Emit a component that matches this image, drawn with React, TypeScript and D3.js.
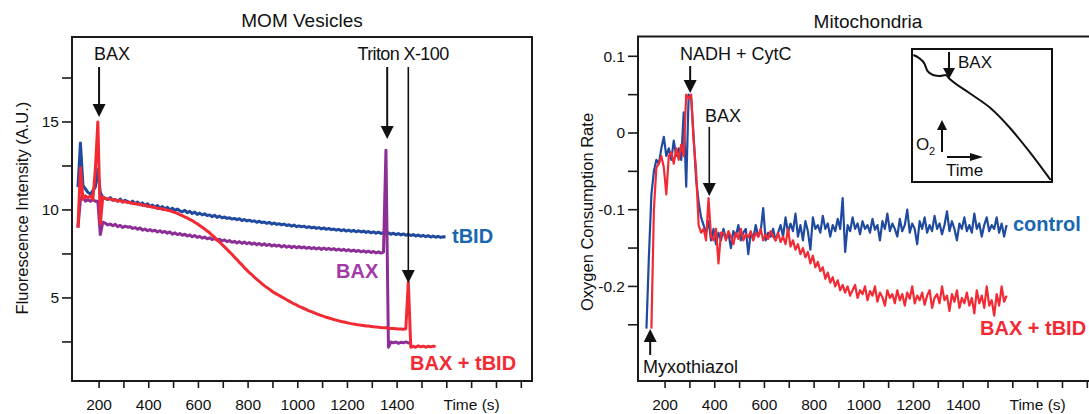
import React from "react";
import * as d3 from "d3";

// ---- data ----
const timeTicks = [200, 300, 400, 500, 600, 700, 800, 900, 1000, 1100, 1200, 1300, 1400, 1500, 1600, 1700, 1800, 1900];
const timeTickLabels = [200, 400, 600, 800, 1000, 1200, 1400];

const momTicks = [2.5, 5, 7.5, 10, 12.5, 15, 17.5];
const momTickLabels = [5, 10, 15];
const mitoTicks = [-0.25, -0.2, -0.15, -0.1, -0.05, 0, 0.05, 0.1];
const mitoTickLabels = [-0.2, -0.1, 0, 0.1];

// MOM vesicles, sampled every 10 s
const momStart = 115;
const momStep = 10;
const momTbid = [
  11.3, 13.8, 11.4, 11.2, 11.0, 10.9, 11.1, 11.3, 12.3, 11.0, 10.7,
  10.65, 10.6, 10.7, 10.55, 10.6, 10.5, 10.62, 10.45, 10.55, 10.48,
  10.4, 10.5, 10.35, 10.45, 10.3, 10.4, 10.25, 10.35, 10.2, 10.28,
  10.15, 10.25, 10.1, 10.2, 10.05, 10.15, 10.0, 10.1, 9.98, 10.05,
  9.95, 9.9, 9.98, 9.85, 9.92, 9.8, 9.88, 9.75, 9.82, 9.72,
  9.78, 9.68, 9.72, 9.62, 9.7, 9.58, 9.65, 9.55, 9.6, 9.52,
  9.56, 9.48, 9.52, 9.45, 9.5, 9.4, 9.46, 9.38, 9.42, 9.35,
  9.38, 9.3, 9.36, 9.28, 9.32, 9.24, 9.3, 9.2, 9.26, 9.18,
  9.22, 9.15, 9.2, 9.12, 9.16, 9.08, 9.14, 9.05, 9.1, 9.04,
  9.08, 9.0, 9.05, 8.98, 9.02, 8.95, 9.0, 8.92, 8.98, 8.9,
  8.95, 8.88, 8.92, 8.85, 8.9, 8.82, 8.88, 8.8, 8.86, 8.78,
  8.84, 8.76, 8.82, 8.75, 8.8, 8.72, 8.78, 8.7, 8.76, 8.68,
  8.74, 8.66, 8.72, 8.65, 8.7, 8.62, 8.68, 8.6, 8.66, 8.58,
  8.64, 8.56, 8.62, 8.55, 8.6, 8.52, 8.58, 8.5, 8.56, 8.48,
  8.54, 8.46, 8.52, 8.45, 8.5, 8.44, 8.48, 8.46,
];
const momBax = [
  9.0, 10.6, 10.8, 10.5, 10.6, 10.5, 10.6, 10.5, 10.5, 8.6, 9.3,
  9.25, 9.15, 9.2, 9.1, 9.18, 9.05, 9.12, 9.0, 9.08, 9.02,
  9.05, 8.95, 9.0, 8.9, 8.98, 8.85, 8.92, 8.82, 8.88, 8.8,
  8.85, 8.75, 8.82, 8.72, 8.78, 8.68, 8.75, 8.62, 8.7, 8.6,
  8.66, 8.56, 8.62, 8.52, 8.58, 8.48, 8.55, 8.44, 8.5, 8.4,
  8.46, 8.36, 8.42, 8.32, 8.38, 8.28, 8.34, 8.24, 8.3, 8.2,
  8.26, 8.16, 8.22, 8.12, 8.2, 8.1, 8.18, 8.08, 8.15, 8.05,
  8.12, 8.02, 8.1, 8.0, 8.08, 7.98, 8.05, 7.95, 8.02, 7.94,
  8.0, 7.9, 7.98, 7.88, 7.95, 7.86, 7.94, 7.85, 7.92, 7.84,
  7.9, 7.82, 7.88, 7.8, 7.86, 7.78, 7.85, 7.76, 7.84, 7.76,
  7.82, 7.74, 7.8, 7.72, 7.78, 7.7, 7.76, 7.68, 7.74, 7.66,
  7.72, 7.64, 7.7, 7.62, 7.68, 7.6, 7.66, 7.58, 7.64, 7.56,
  7.62, 7.55, 7.6, 13.4, 2.2,
  2.5, 2.45, 2.5, 2.42, 2.48, 2.45, 2.5, 2.44, 2.46,
];
const momBaxTbid = [
  9.0, 12.4, 10.6, 10.8, 10.7, 10.8, 10.6, 12.3, 15.0, 9.2, 10.75,
  10.66, 10.6, 10.64, 10.56, 10.58, 10.5, 10.54, 10.46, 10.48, 10.42,
  10.44, 10.36, 10.38, 10.32, 10.34, 10.26, 10.28, 10.2, 10.22, 10.15,
  10.16, 10.08, 10.1, 10.03, 10.04, 9.98, 9.96, 9.9, 9.86, 9.8,
  9.74, 9.68, 9.6, 9.55, 9.46, 9.4, 9.3, 9.22, 9.12, 9.02,
  8.92, 8.8, 8.7, 8.56, 8.45, 8.3, 8.18, 8.04, 7.9, 7.76,
  7.62, 7.48, 7.32, 7.18, 7.02, 6.88, 6.72, 6.58, 6.44, 6.32,
  6.18, 6.06, 5.94, 5.82, 5.7, 5.6, 5.5, 5.4, 5.3, 5.22,
  5.14, 5.06, 4.98, 4.9, 4.82, 4.74, 4.66, 4.6, 4.52, 4.46,
  4.4, 4.34, 4.27, 4.22, 4.16, 4.1, 4.05, 4.0, 3.95, 3.9,
  3.86, 3.82, 3.77, 3.74, 3.7, 3.66, 3.63, 3.6, 3.57, 3.54,
  3.52, 3.49, 3.47, 3.45, 3.43, 3.41, 3.4, 3.38, 3.36, 3.35,
  3.34, 3.32, 3.31, 3.3, 3.28, 3.27, 3.26, 3.25, 3.24, 3.24,
  3.22, 3.25, 5.9, 2.2,
  2.25, 2.2, 2.28, 2.22, 2.26, 2.2, 2.25, 2.22, 2.26, 2.24,
];

// Mitochondria oxygen consumption, sampled every 10 s
const mitoStep = 10;
const mitoControlStart = 125;
const mitoControl = [
  -0.255, -0.16, -0.08, -0.05, -0.035, -0.04, -0.02, -0.005, -0.03, -0.02,
  -0.035, -0.01, -0.03, -0.02, -0.035, 0.027, -0.07, 0.05, 0.045, -0.005,
  -0.06, -0.09, -0.11, -0.12, -0.13, -0.115, -0.14, -0.125, -0.145, -0.13,
  -0.14, -0.125, -0.138, -0.13, -0.15, -0.128, -0.135, -0.12, -0.14, -0.13,
  -0.125, -0.158, -0.13, -0.138, -0.12, -0.135, -0.128, -0.098, -0.14, -0.13,
  -0.135, -0.125, -0.14, -0.13, -0.12, -0.135, -0.11, -0.13, -0.118, -0.128,
  -0.105, -0.135, -0.12, -0.14, -0.115, -0.128, -0.152, -0.11, -0.125, -0.12,
  -0.13, -0.108, -0.125, -0.118, -0.135, -0.12, -0.128, -0.112, -0.125, -0.085,
  -0.155, -0.12, -0.128, -0.11, -0.125, -0.118, -0.132, -0.115, -0.125, -0.12,
  -0.13, -0.112, -0.126, -0.12, -0.14, -0.115, -0.125, -0.105, -0.128, -0.118,
  -0.125, -0.135, -0.112, -0.128, -0.12, -0.1, -0.13, -0.118, -0.125, -0.145,
  -0.115, -0.125, -0.11, -0.13, -0.12, -0.128, -0.108, -0.125, -0.118, -0.132,
  -0.12, -0.102, -0.128, -0.115, -0.125, -0.14, -0.118, -0.125, -0.11, -0.128,
  -0.12, -0.13, -0.105, -0.125, -0.118, -0.135, -0.12, -0.11, -0.128, -0.12,
  -0.125, -0.11, -0.13, -0.118, -0.135, -0.12,
];
const mitoBaxTbidStart = 145;
const mitoBaxTbid = [
  -0.255, -0.1, -0.045, -0.04, -0.03, -0.045, -0.08, -0.03, -0.025, -0.04,
  -0.02, -0.035, -0.015, -0.03, 0.05, 0.045, 0.05, -0.01, -0.05, -0.12,
  -0.13, -0.125, -0.14, -0.085, -0.135, -0.14, -0.125, -0.17, -0.13,
  -0.13, -0.14, -0.128, -0.135, -0.145, -0.13, -0.138, -0.125, -0.14, -0.132,
  -0.136, -0.128, -0.14, -0.13, -0.135, -0.125, -0.14, -0.132, -0.138, -0.128,
  -0.135, -0.14, -0.13, -0.142, -0.135, -0.145, -0.125, -0.148, -0.14, -0.152,
  -0.145, -0.158, -0.15, -0.162, -0.155, -0.17, -0.16, -0.175, -0.168, -0.18,
  -0.175, -0.19, -0.182, -0.195, -0.188, -0.2, -0.192, -0.205, -0.198, -0.208,
  -0.2, -0.212, -0.205, -0.198, -0.215, -0.205, -0.21, -0.2, -0.218, -0.206,
  -0.212, -0.2, -0.22, -0.208, -0.214, -0.225, -0.205, -0.215, -0.21, -0.222,
  -0.205, -0.218, -0.21, -0.225, -0.208, -0.216, -0.2, -0.222, -0.212, -0.218,
  -0.208, -0.224, -0.212, -0.205, -0.228, -0.215, -0.21, -0.222, -0.2, -0.218,
  -0.212, -0.232, -0.21, -0.22, -0.205, -0.228, -0.215, -0.222, -0.208, -0.225,
  -0.215, -0.235, -0.205, -0.222, -0.212, -0.228, -0.2, -0.225, -0.218, -0.238,
  -0.21, -0.225, -0.2, -0.22, -0.212,
];

// inset: O2 trace, both axes unitless 0..1
const insetTime = [0.01, 0.05, 0.09, 0.11, 0.15, 0.2, 0.24, 0.27, 0.41, 0.56, 0.7, 0.84, 0.99];
const insetO2 = [0.955, 0.932, 0.887, 0.835, 0.805, 0.797, 0.805, 0.774, 0.669, 0.556, 0.406, 0.226, 0.015];

const FONT = "'Liberation Sans', Arial, Helvetica, sans-serif";
const BLUE = "#1f4aa0";
const PURPLE = "#8c2e96";
const RED = "#f22a34";
const LABEL_BLUE = "#1867b0";

const toPoints = (start, step, vals) => vals.map((v, i) => [start + i * step, v]);

function Arrow({ x, y1, y2, w = 2, head = 13, hw = 6.5 }) {
  const dir = y2 > y1 ? 1 : -1;
  const base = y2 - dir * head;
  return (
    <g>
      <line x1={x} x2={x} y1={y1} y2={base} stroke="#111" strokeWidth={w} />
      <polygon points={`${x - hw},${base} ${x + hw},${base} ${x},${y2}`} fill="#111" />
    </g>
  );
}

export default function App() {
  const W = 1089, H = 414;

  const xL = d3.scaleLinear().domain([91, 1943]).range([72, 532]);
  const yL = d3.scaleLinear().domain([0.28, 19.83]).range([381, 37]);
  const xR = d3.scaleLinear().domain([91, 1943]).range([638, 1098]);
  const yR = d3.scaleLinear().domain([-0.3233, 0.1258]).range([381, 36.5]);

  const lineL = d3.line().x((d) => xL(d[0])).y((d) => yL(d[1]));
  const lineR = d3.line().x((d) => xR(d[0])).y((d) => yR(d[1]));

  const ix = d3.scaleLinear().domain([0, 1]).range([912, 1052]);
  const iy = d3.scaleLinear().domain([0, 1]).range([182, 49]);
  const insetLine = d3.line().x((d) => ix(d[0])).y((d) => iy(d[1])).curve(d3.curveMonotoneX);
  const insetPts = insetTime.map((t, i) => [t, insetO2[i]]);

  const frame = (y, sc) => (
    <rect x={sc.range()[0]} y={y.range()[1]} width={sc.range()[1] - sc.range()[0]}
      height={y.range()[0] - y.range()[1]} fill="none" stroke="#1a1a1a" strokeWidth={2} />
  );

  const xAxis = (sc) => (
    <g>
      {timeTicks.map((t) => (
        <line key={t} x1={sc(t)} x2={sc(t)} y1={381} y2={388} stroke="#1a1a1a" strokeWidth={1.6} />
      ))}
      {timeTickLabels.map((t) => (
        <text key={t} x={sc(t)} y={410} textAnchor="middle" fontSize={15.5}>{t}</text>
      ))}
      <text x={sc(1700)} y={410} textAnchor="middle" fontSize={15.5}>Time (s)</text>
    </g>
  );

  const yAxis = (sc, x0, ticks, labels) => (
    <g>
      {ticks.map((v) => (
        <line key={v} x1={x0 - 10} x2={x0} y1={sc(v)} y2={sc(v)} stroke="#1a1a1a" strokeWidth={1.6} />
      ))}
      {labels.map((v) => (
        <text key={v} x={x0 - 13} y={sc(v) + 5.5} textAnchor="end" fontSize={15.5}>{String(v)}</text>
      ))}
    </g>
  );

  return (
    <svg width={W} height={H} style={{ position: "absolute", left: 0, top: 0, background: "#fff" }}
      fontFamily={FONT} fill="#111">
      {/* MOM Vesicles */}
      <text x={302} y={27} textAnchor="middle" fontSize={19}>MOM Vesicles</text>
      <text transform="translate(28,208) rotate(-90)" textAnchor="middle" fontSize={16.5}>
        Fluorescence Intensity (A.U.)
      </text>
      {yAxis(yL, 72, momTicks, momTickLabels)}
      {xAxis(xL)}
      <path d={lineL(toPoints(momStart, momStep, momTbid))} fill="none" stroke={BLUE} strokeWidth={3} strokeLinejoin="round" />
      <path d={lineL(toPoints(momStart, momStep, momBax))} fill="none" stroke={PURPLE} strokeWidth={3} strokeLinejoin="round" />
      <path d={lineL(toPoints(momStart, momStep, momBaxTbid))} fill="none" stroke={RED} strokeWidth={3} strokeLinejoin="round" />
      {frame(yL, xL)}

      <text x={112} y={60} textAnchor="middle" fontSize={18}>BAX</text>
      <Arrow x={xL(200)} y1={67} y2={117} />
      <text x={403} y={60} textAnchor="middle" fontSize={18} letterSpacing={-0.6}>Triton X-100</text>
      <Arrow x={xL(1360)} y1={67} y2={139} />
      <Arrow x={xL(1445)} y1={67} y2={283} w={1.6} />

      <text x={452} y={243} fontSize={20} fontWeight="bold" fill={LABEL_BLUE}>tBID</text>
      <text x={336} y={278} fontSize={20} fontWeight="bold" fill="#a43aa6">BAX</text>
      <text x={410} y={370} fontSize={20} fontWeight="bold" fill={RED}>BAX + tBID</text>

      {/* Mitochondria */}
      <text x={868} y={28} textAnchor="middle" fontSize={19}>Mitochondria</text>
      <text transform="translate(593,212) rotate(-90)" textAnchor="middle" fontSize={16.5}>
        Oxygen Consumption Rate
      </text>
      {yAxis(yR, 638, mitoTicks, mitoTickLabels)}
      {xAxis(xR)}
      <path d={lineR(toPoints(mitoControlStart, mitoStep, mitoControl))} fill="none" stroke={BLUE} strokeWidth={2.2} strokeLinejoin="round" />
      <path d={lineR(toPoints(mitoBaxTbidStart, mitoStep, mitoBaxTbid))} fill="none" stroke={RED} strokeWidth={2.2} strokeLinejoin="round" />
      {frame(yR, xR)}

      <text x={680} y={60} fontSize={18}>NADH + CytC</text>
      <Arrow x={xR(301)} y1={66} y2={93} />
      <text x={705} y={122} fontSize={18}>BAX</text>
      <Arrow x={xR(378)} y1={127} y2={196} w={1.6} />
      <Arrow x={xR(140)} y1={355} y2={329} />
      <text x={643} y={373} fontSize={18}>Myxothiazol</text>

      <text x={1013} y={231} fontSize={20} fontWeight="bold" fill={LABEL_BLUE}>control</text>
      <text x={980} y={335} fontSize={20} fontWeight="bold" fill={RED}>BAX + tBID</text>

      {/* inset */}
      <rect x={912} y={49} width={140} height={133} fill="#fff" stroke="#111" strokeWidth={2} />
      <path d={insetLine(insetPts)} fill="none" stroke="#111" strokeWidth={2} />
      <Arrow x={949} y1={52} y2={79} head={11} hw={6} />
      <text x={958} y={68} fontSize={17}>BAX</text>
      <text x={916} y={150} fontSize={17}>O</text>
      <text x={929} y={155} fontSize={11}>2</text>
      <Arrow x={942} y1={152} y2={120} head={10} hw={5} />
      <line x1={947} x2={972} y1={157} y2={157} stroke="#111" strokeWidth={2} />
      <polygon points="970,153 983,157 970,161" fill="#111" />
      <text x={946} y={176} fontSize={17}>Time</text>
    </svg>
  );
}
